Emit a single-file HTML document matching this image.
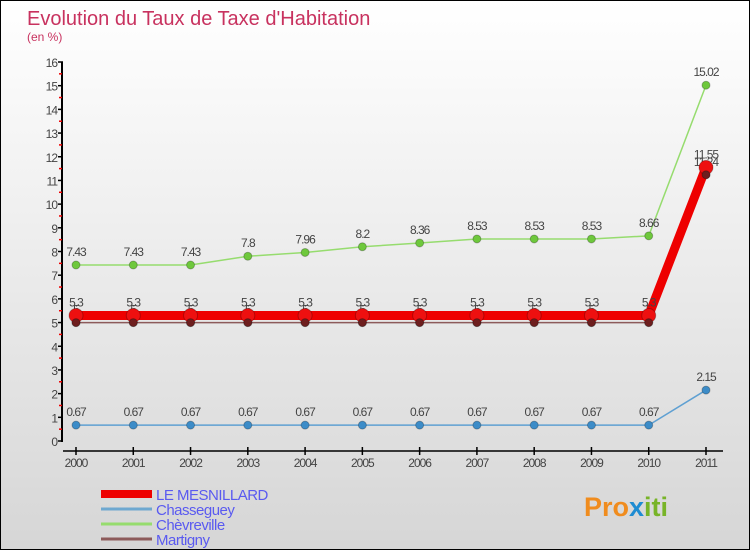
<!DOCTYPE html>
<html><head><meta charset="utf-8"><style>
body{margin:0}
#c{width:750px;height:550px;position:relative;box-sizing:border-box;border:1px solid #000;background:linear-gradient(#ffffff,#f3f3f3 30%,#d6d6d6);font-family:"Liberation Sans",sans-serif;overflow:hidden}
svg text{font-family:"Liberation Sans",sans-serif}
</style></head><body>
<div id="c">
<svg id="s" width="750" height="550">
<text x="26" y="24" font-size="20" fill="#c8325f">Evolution du Taux de Taxe d'Habitation</text>
<text x="26" y="40" font-size="12" fill="#c8325f">(en %)</text>
<g id="axes"></g><g id="series"></g><g id="legend"></g>
<text x="583" y="515" font-size="27" font-weight="bold" fill="#f08c1e">Pro<tspan fill="#1e8cd2">x</tspan><tspan fill="#78b428">iti</tspan></text>
</svg></div>
<script>
const years=[2000,2001,2002,2003,2004,2005,2006,2007,2008,2009,2010,2011];
const yTicks=[0,1,2,3,4,5,6,7,8,9,10,11,12,13,14,15,16];
const seriesNames=["LE MESNILLARD","Chasseguey","Chèvreville","Martigny"];
const mesnillard=[5.3,5.3,5.3,5.3,5.3,5.3,5.3,5.3,5.3,5.3,5.3,11.55];
const chasseguey=[0.67,0.67,0.67,0.67,0.67,0.67,0.67,0.67,0.67,0.67,0.67,2.15];
const chevreville=[7.43,7.43,7.43,7.8,7.96,8.2,8.36,8.53,8.53,8.53,8.66,15.02];
const martigny=[5,5,5,5,5,5,5,5,5,5,5,11.24];
const NS="http://www.w3.org/2000/svg";
function X(i){return 75+i*(630/11);}
function Y(v){return 440-v*(379/16);}
function mk(t,a,p){const e=document.createElementNS(NS,t);for(const k in a)e.setAttribute(k,a[k]);p.appendChild(e);return e;}
const ax=document.getElementById('axes');
let e=mk('line',{x1:61,y1:Y(16),x2:61,y2:Y(0)+1,stroke:'#000','stroke-width':2},ax);


yTicks.forEach(v=>{
 let t=mk('line',{x1:57,y1:Y(v),x2:62,y2:Y(v),stroke:'#000','stroke-width':1.5},ax);
 
 
 if(v<16){let h=mk('line',{x1:58,y1:Y(v+0.5),x2:61,y2:Y(v+0.5),stroke:'#e00','stroke-width':1.5},ax);
 
 }
 let l=mk('text',{x:56,y:Y(v)+5,'font-size':12,fill:'#444','text-anchor':'end','letter-spacing':'-1'},ax);l.textContent=v;
 
 
});
e=mk('line',{x1:62,y1:450,x2:722,y2:450,stroke:'#000','stroke-width':1.5},ax);


years.forEach((y,i)=>{
 let t=mk('line',{x1:X(i),y1:446,x2:X(i),y2:454,stroke:'#000','stroke-width':1.5},ax);
 
 
 let l=mk('text',{x:X(i),y:466,'font-size':12,fill:'#444','text-anchor':'middle','letter-spacing':'-1'},ax);l.textContent=y;
 
 
});
const sg=document.getElementById('series');
function draw(vals,color,w,r,dot,name,lab){
 const g=mk('g',{},sg);
 
 
 let p=mk('polyline',{points:vals.map((v,i)=>X(i)+','+Y(v)).join(' '),fill:'none',stroke:color,'stroke-width':w},g);
 
 
 vals.forEach((v,i)=>{
  let c=mk('circle',{cx:X(i),cy:Y(v),r:r,fill:dot,stroke:'rgba(0,0,0,0.25)','stroke-width':1},g);
  
  
  if(lab){let t=mk('text',{x:X(i),y:Y(v)-9+(lab||0)*0,'font-size':12,fill:'#444','text-anchor':'middle','letter-spacing':'-1'},g);t.textContent=v;
  
  }
 });
}
draw(chasseguey,'#5fa0d2',1.5,4,'#3c8cc8','chasseguey',1);
draw(chevreville,'#96dc6e',1.5,4,'#6ec83c','chevreville',1);
draw(martigny,'#8c5a5a',1.5,4,'#6e1e1e','martigny',1);
draw(mesnillard,'#ee0000',9,7,'#ee1010','le-mesnillard',1);
draw(martigny,'#8c5a5a',0,4,'#6e1e1e','martigny-top',0);
const lg=document.getElementById('legend');
const lc=['#ee0000','#6ea8d0','#96dc6e','#8c5a5a'],lw=[8,3,3,3];
seriesNames.forEach((n,i)=>{
 let y=493+i*15;
 let l=mk('line',{x1:100,y1:y,x2:151,y2:y,stroke:lc[i],'stroke-width':lw[i]},lg);
 
 
 let t=mk('text',{x:155,y:y+6,'font-size':15,fill:'#5a5af0','letter-spacing':'-0.5'},lg);t.textContent=n;
 
 
});
</script>
</body></html>
